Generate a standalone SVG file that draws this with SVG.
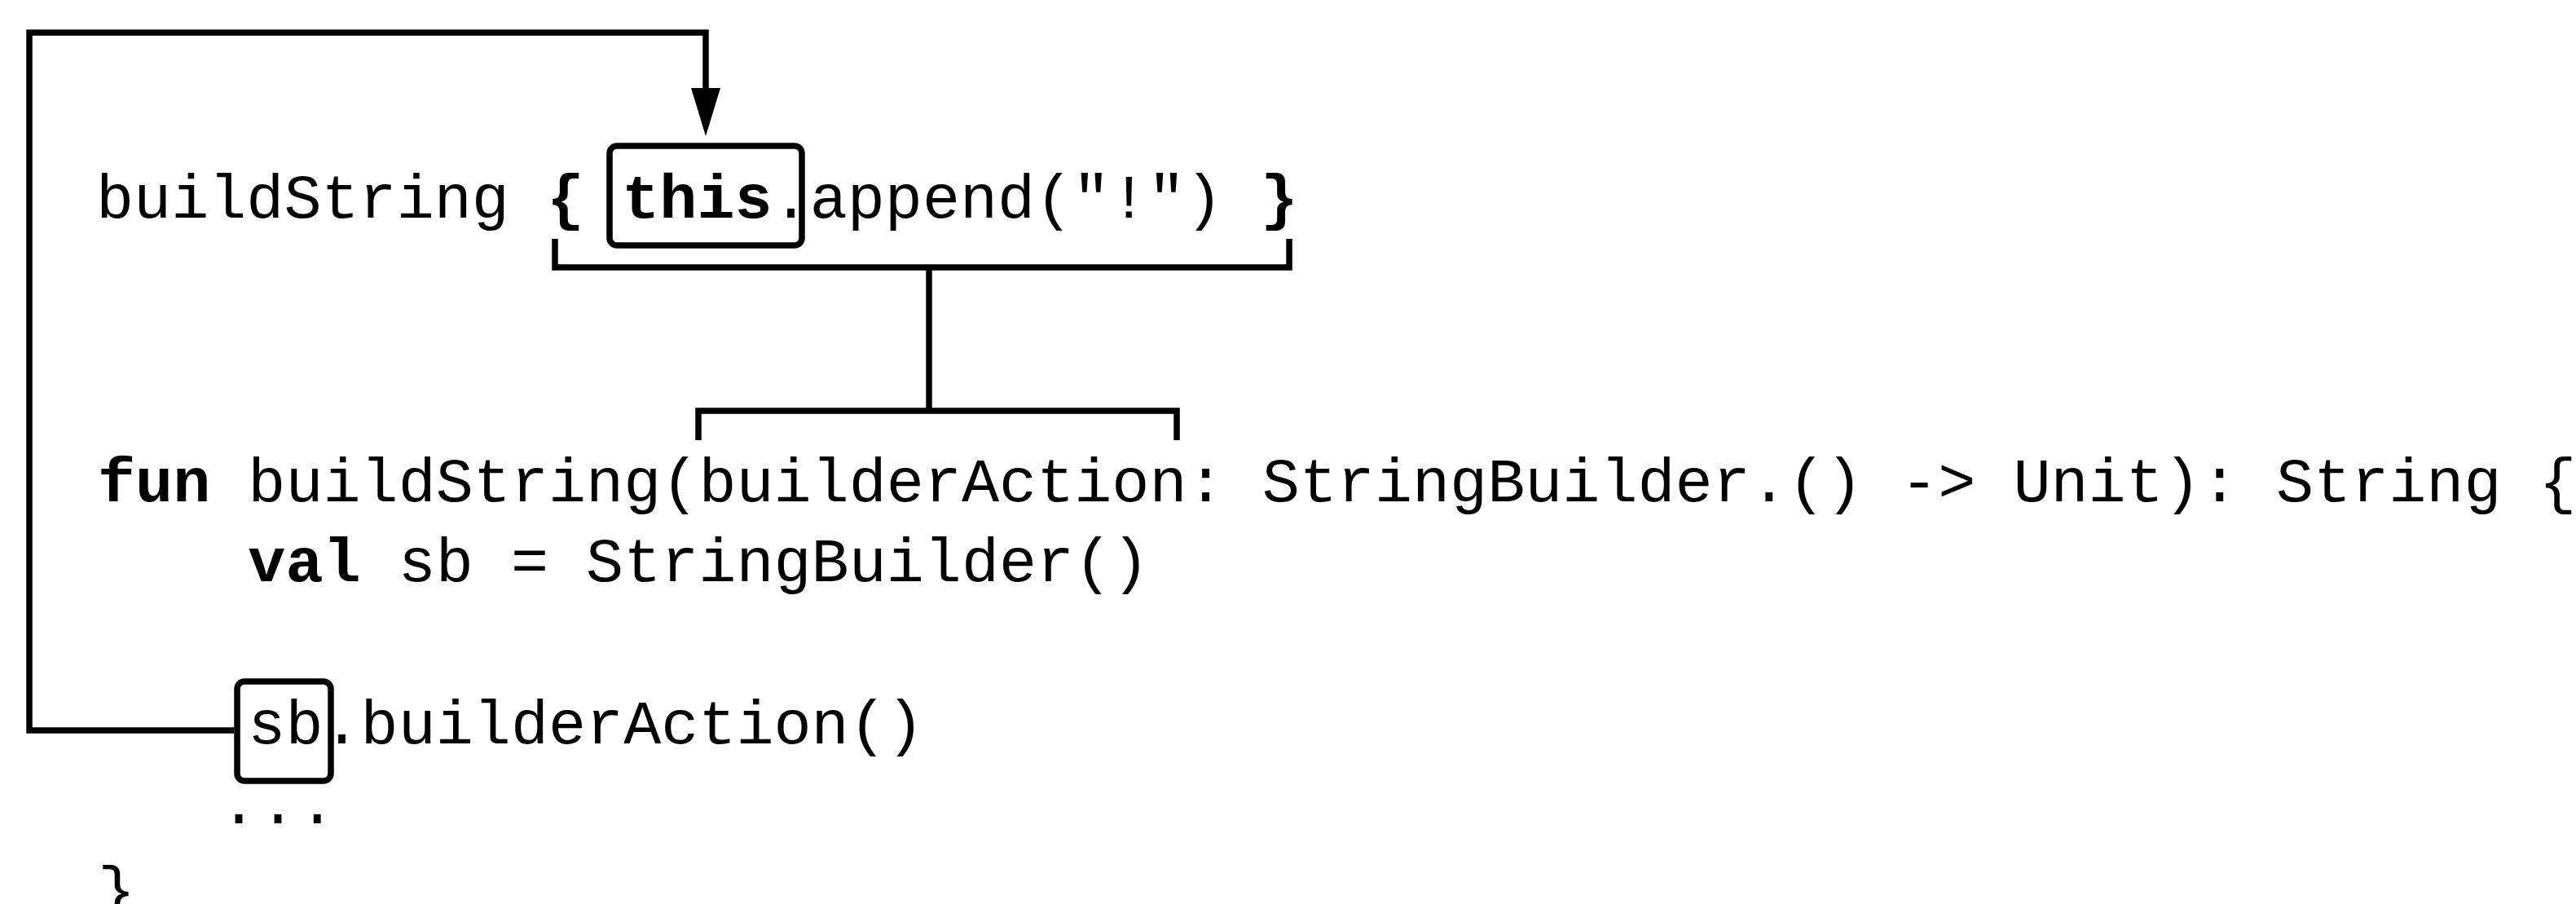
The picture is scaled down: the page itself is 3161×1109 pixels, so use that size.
<svg xmlns="http://www.w3.org/2000/svg" width="3161" height="1109" viewBox="0 0 3161 1109">
  <style>
    .code { font-family: "Liberation Mono", "Courier New", monospace; font-size: 76.8px; fill: #000; }
    .b { font-weight: bold; }
    .line { fill: none; stroke: #000; stroke-width: 7.5; stroke-linejoin: miter; stroke-linecap: butt; }
    .box { fill: none; stroke: #000; stroke-width: 7.5; }
  </style>
  <defs>
    <marker id="arrow" markerUnits="userSpaceOnUse" markerWidth="60" markerHeight="36" viewBox="0 0 60 36" refX="0" refY="18" orient="auto">
      <path d="M0,0 L59,18 L0,36 Z" fill="#000"/>
    </marker>
  </defs>
  <rect x="0" y="0" width="3161" height="1109" fill="#fff"/>

  <g id="call-site">
    <text class="code" x="118" y="267">buildString <tspan class="b">{</tspan> <tspan class="b">this</tspan>.append("!") <tspan class="b">}</tspan></text>
  </g>

  <g id="box-this">
    <rect class="box" x="748" y="179" width="236" height="122" rx="9" ry="9"/>
  </g>

  <g id="definition">
    <text class="code" x="120" y="615"><tspan class="b">fun</tspan> buildString(builderAction: StringBuilder.() -&gt; Unit): String {</text>
    <text class="code" x="304.3" y="713"><tspan class="b">val</tspan> sb = StringBuilder()</text>
    <text class="code" x="304.3" y="912">sb.builderAction()</text>
    <text class="code" x="270" y="1010" letter-spacing="2">...</text>
    <text class="code" x="120" y="1116">}</text>
  </g>

  <g id="box-sb">
    <rect class="box" x="291" y="836" width="115" height="122" rx="9" ry="9"/>
  </g>

  <g id="connectors">
    <path class="line" d="M287,896 H36 V40 H866 V108" marker-end="url(#arrow)"/>
    <path class="line" d="M681,293 V328 H1582 V293"/>
    <path class="line" d="M1140,328 V504"/>
    <path class="line" d="M857,540 V504 H1444 V540"/>
  </g>
</svg>
